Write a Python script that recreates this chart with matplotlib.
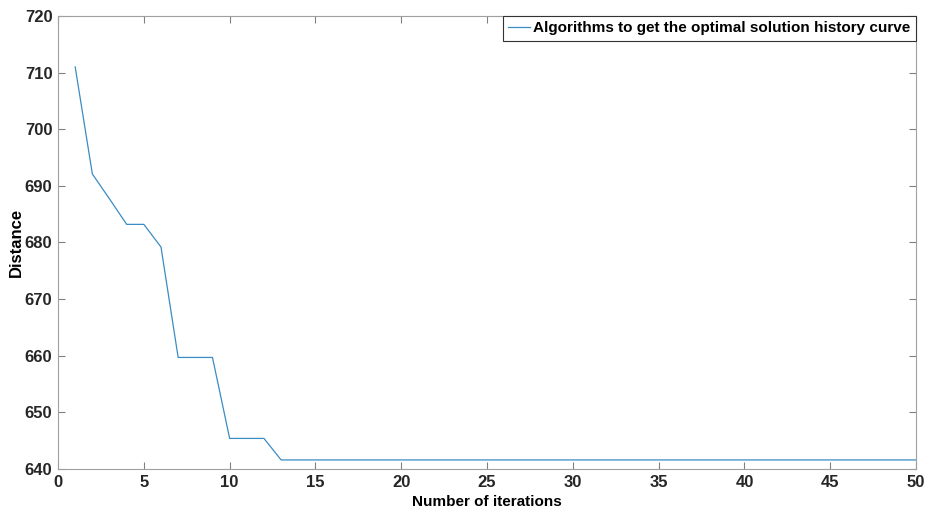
import numpy as np
import matplotlib
matplotlib.use("Agg")
import matplotlib.pyplot as plt

plt.rcParams['font.family'] = ['Liberation Sans', 'DejaVu Sans']
plt.rcParams['font.weight'] = 'bold'

# best distance found at each iteration
iterations = np.arange(1, 51)
distance = [711.0, 692.1, 687.7, 683.2, 683.2, 679.2, 659.7, 659.7, 659.7,
            645.4, 645.4, 645.4] + [641.6] * 38

fig = plt.figure(figsize=(9.27, 5.11), dpi=100)
ax = fig.add_axes([0.0626, 0.0822, 0.9256, 0.8865])

ax.plot(iterations, distance, color='#3a8cc4', linewidth=0.9,
        label='Algorithms to get the optimal solution history curve')

ax.set_xlim(0, 50)
ax.set_ylim(640, 720)
ax.set_xticks(np.arange(0, 51, 5))
ax.set_yticks(np.arange(640, 721, 10))
ax.set_xlabel('Number of iterations', fontsize=11, fontweight='bold', labelpad=4)
ax.set_ylabel('Distance', fontsize=12, fontweight='bold', labelpad=1)

for s in ax.spines.values():
    s.set_color('#a0a0a0')
    s.set_linewidth(0.8)
ax.tick_params(direction='in', length=5, color='#808080', labelsize=12,
               top=True, right=True, pad=4)
for lab in ax.get_xticklabels() + ax.get_yticklabels():
    lab.set_fontweight('bold')
    lab.set_color('#262626')

leg = ax.legend(loc='upper right', fontsize=11, handlelength=1.45,
                handletextpad=0.2, borderaxespad=0.0, borderpad=0.35,
                fancybox=False, framealpha=1)
leg.get_frame().set_edgecolor('#333333')
leg.get_frame().set_linewidth(0.8)
for t in leg.get_texts():
    t.set_fontweight('bold')

fig.savefig('out.png', dpi=100)
